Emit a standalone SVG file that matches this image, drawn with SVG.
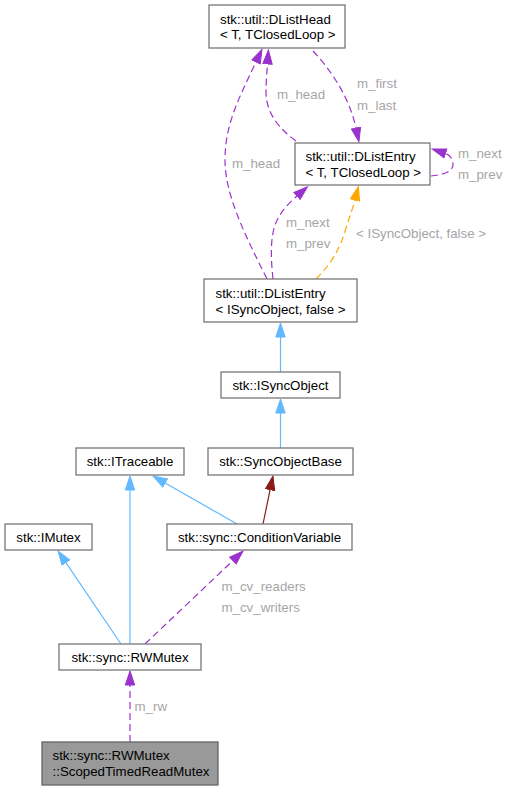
<svg xmlns="http://www.w3.org/2000/svg" width="510" height="791" viewBox="0 0 510 791">
<style>
.box{fill:#ffffff;stroke:#777777;stroke-width:1.3}
.focus{fill:#999999;stroke:#666666;stroke-width:1.3}
text{font-family:"Liberation Sans",Arial,sans-serif;font-size:13.3px;fill:#000000}
.c{text-anchor:middle}
.lbl{fill:#a6a6a6}
.e{fill:none;stroke-width:1.2}
.blue{stroke:#63b8ff}
.purple{stroke:#9a32cd;stroke-dasharray:7,4}
.orange{stroke:#ffa500;stroke-dasharray:7,4}
.red{stroke:#8b1a1a}
</style>
<defs>
<marker id="aBlue" markerUnits="userSpaceOnUse" markerWidth="16" markerHeight="12" viewBox="0 -6 15 12" refX="0" refY="0" orient="auto"><path d="M0,-4.7 L14,0 L0,4.7 z" fill="#63b8ff" stroke="#63b8ff"/></marker>
<marker id="aPurple" markerUnits="userSpaceOnUse" markerWidth="16" markerHeight="12" viewBox="0 -6 15 12" refX="0" refY="0" orient="auto"><path d="M0,-4.7 L14,0 L0,4.7 z" fill="#9a32cd" stroke="#9a32cd"/></marker>
<marker id="aOrange" markerUnits="userSpaceOnUse" markerWidth="16" markerHeight="12" viewBox="0 -6 15 12" refX="0" refY="0" orient="auto"><path d="M0,-4.7 L14,0 L0,4.7 z" fill="#ffa500" stroke="#ffa500"/></marker>
<marker id="aRed" markerUnits="userSpaceOnUse" markerWidth="16" markerHeight="12" viewBox="0 -6 15 12" refX="0" refY="0" orient="auto"><path d="M0,-4.7 L14,0 L0,4.7 z" fill="#8b1a1a" stroke="#8b1a1a"/></marker>
</defs>
<rect width="510" height="791" fill="#ffffff"/>
<g id="connectors">
<path class="e purple" marker-end="url(#aPurple)" d="M267,279 C245,235 225,195 225,160 C225,125 238,100 256,62"/>
<text class="lbl" x="232" y="168">m_head</text>
<path class="e purple" marker-end="url(#aPurple)" d="M296,141 C278,128 266,112 266,92 C266,80 267,72 267.5,64"/>
<text class="lbl" x="277" y="99">m_head</text>
<path class="e purple" marker-end="url(#aPurple)" d="M313,51 C333,72 350,100 356,128"/>
<text class="lbl" x="357" y="88">m_first</text>
<text class="lbl" x="357" y="110">m_last</text>
<path class="e purple" marker-end="url(#aPurple)" d="M431,176 C441,175 453,172 453,165 C453,159 450,155 445.5,153.5"/>
<text class="lbl" x="458" y="158">m_next</text>
<text class="lbl" x="458" y="178.5">m_prev</text>
<path class="e purple" marker-end="url(#aPurple)" d="M273,279 C271,260 270,240 275,225 C280,212 288,204 297,196"/>
<text class="lbl" x="286" y="227">m_next</text>
<text class="lbl" x="286" y="247.5">m_prev</text>
<path class="e orange" marker-end="url(#aOrange)" d="M316,279 C330,265 340,250 346,228 C350,215 353,208 355,200"/>
<text class="lbl" x="356" y="238">&lt; ISyncObject, false &gt;</text>
<path class="e blue" marker-end="url(#aBlue)" d="M280.5,372 L280.5,337"/>
<path class="e blue" marker-end="url(#aBlue)" d="M280.5,448 L280.5,413"/>
<path class="e red" marker-end="url(#aRed)" d="M263,524 L270.1,489.7"/>
<path class="e blue" marker-end="url(#aBlue)" d="M237,524 L165.2,483"/>
<path class="e blue" marker-end="url(#aBlue)" d="M130,644 L130,490"/>
<path class="e blue" marker-end="url(#aBlue)" d="M121,644 L65.9,562.6"/>
<path class="e purple" marker-end="url(#aPurple)" d="M145,644 L232.9,560.6"/>
<text class="lbl" x="221.5" y="591">m_cv_readers</text>
<text class="lbl" x="221.5" y="611.5">m_cv_writers</text>
<path class="e purple" marker-end="url(#aPurple)" d="M130,742 L130,685"/>
<text class="lbl" x="134.5" y="710.5">m_rw</text>
</g>
<g id="node_dlisthead">
<rect class="box" x="209" y="5" width="136" height="43"/>
<text x="220" y="23.5">stk::util::DListHead</text>
<text x="220" y="39">&lt; T, TClosedLoop &gt;</text>
</g>
<g id="node_dlistentry_t">
<rect class="box" x="295" y="143" width="135" height="42"/>
<text x="305.5" y="161">stk::util::DListEntry</text>
<text x="305.5" y="176.5">&lt; T, TClosedLoop &gt;</text>
</g>
<g id="node_dlistentry_isync">
<rect class="box" x="204" y="279" width="153" height="43"/>
<text x="215.5" y="298">stk::util::DListEntry</text>
<text x="215.5" y="313.5">&lt; ISyncObject, false &gt;</text>
</g>
<g id="node_isyncobject">
<rect class="box" x="221" y="372" width="119" height="26"/>
<text class="c" x="280.5" y="390">stk::ISyncObject</text>
</g>
<g id="node_syncobjectbase">
<rect class="box" x="208" y="448" width="145" height="27"/>
<text class="c" x="280.5" y="466">stk::SyncObjectBase</text>
</g>
<g id="node_itraceable">
<rect class="box" x="76" y="448" width="108" height="27"/>
<text class="c" x="130" y="466">stk::ITraceable</text>
</g>
<g id="node_imutex">
<rect class="box" x="5" y="524" width="87" height="26"/>
<text class="c" x="48.5" y="541.5">stk::IMutex</text>
</g>
<g id="node_conditionvariable">
<rect class="box" x="167" y="524" width="185" height="26"/>
<text class="c" x="259.5" y="541.5">stk::sync::ConditionVariable</text>
</g>
<g id="node_rwmutex">
<rect class="box" x="59" y="644" width="142" height="26"/>
<text class="c" x="130" y="661.5">stk::sync::RWMutex</text>
</g>
<g id="node_scoped">
<rect class="focus" x="42" y="742" width="176" height="43"/>
<text x="52.5" y="760">stk::sync::RWMutex</text>
<text x="52.5" y="776">::ScopedTimedReadMutex</text>
</g>
</svg>
